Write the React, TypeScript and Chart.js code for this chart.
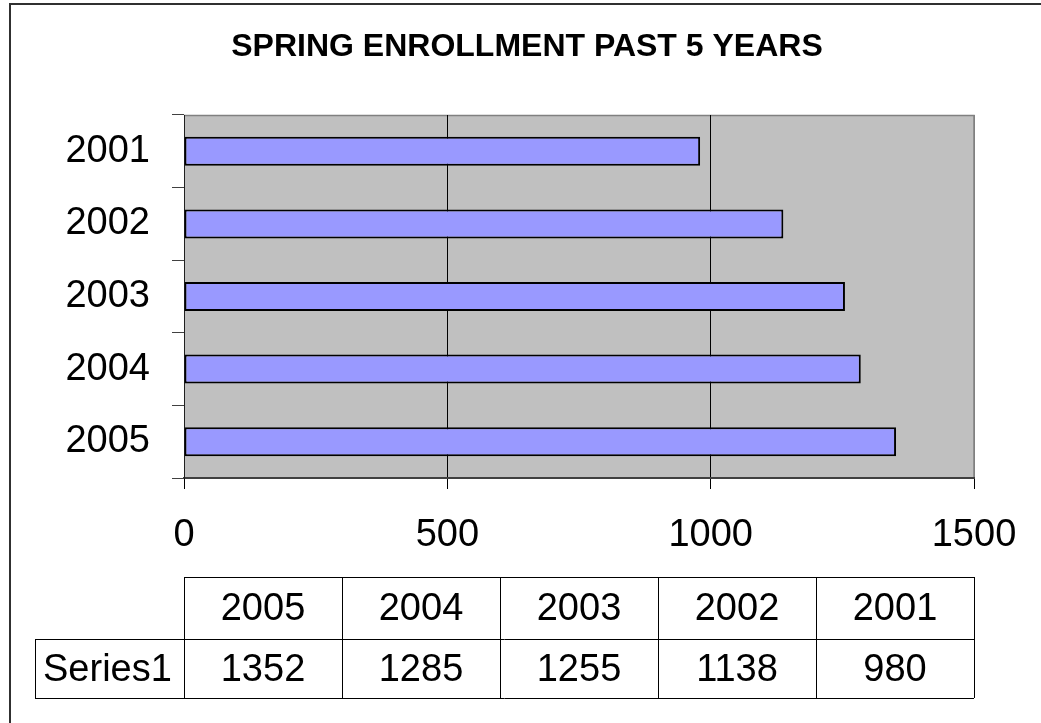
import React, { useEffect, useRef } from "react";
import { Chart, registerables } from "chart.js";

Chart.register(...registerables);

const TITLE = "SPRING ENROLLMENT PAST 5 YEARS";
const SERIES_NAME = "Series1";
const YEARS = ["2005", "2004", "2003", "2002", "2001"];
const ENROLLMENT = [1352, 1285, 1255, 1138, 980];
const X_MIN = 0;
const X_MAX = 1500;
const X_STEP = 500;

const FONT = '"Liberation Sans", Arial, sans-serif';
const W = 1041;
const H = 723;

const decorPlugin = {
  id: "decor",
  beforeDraw(chart: any) {
    const { ctx, chartArea } = chart;
    const { left, top, right, bottom } = chartArea;
    ctx.save();
    ctx.fillStyle = "#ffffff";
    ctx.fillRect(0, 0, chart.width, chart.height);
    ctx.fillStyle = "#C0C0C0";
    ctx.fillRect(left, top, right - left, bottom - top);
    ctx.strokeStyle = "#808080";
    ctx.lineWidth = 1.5;
    ctx.beginPath();
    ctx.moveTo(left, top + 0.5);
    ctx.lineTo(right, top + 0.5);
    ctx.lineTo(right, bottom);
    ctx.stroke();
    ctx.restore();
  },
  afterDraw(chart: any) {
    const { ctx, chartArea } = chart;
    const { left, right } = chartArea;
    ctx.save();
    // title
    ctx.fillStyle = "#000";
    ctx.font = `bold 32px ${FONT}`;
    ctx.textAlign = "center";
    ctx.textBaseline = "middle";
    ctx.fillText(TITLE, 527, 47);

    // data table
    const labels: string[] = chart.data.labels;
    const values: number[] = chart.data.datasets[0].data;
    const n = labels.length;
    const colW = (right - left) / n;
    const rowTop = 577;
    const rowMid = 639;
    const rowBot = 698;
    const labelLeft = 35;
    ctx.strokeStyle = "#000";
    ctx.lineWidth = 1;
    ctx.beginPath();
    ctx.moveTo(left, rowTop + 0.5);
    ctx.lineTo(right, rowTop + 0.5);
    ctx.moveTo(labelLeft, rowMid + 0.5);
    ctx.lineTo(right, rowMid + 0.5);
    ctx.moveTo(labelLeft, rowBot + 0.5);
    ctx.lineTo(right, rowBot + 0.5);
    ctx.moveTo(labelLeft + 0.5, rowMid);
    ctx.lineTo(labelLeft + 0.5, rowBot);
    for (let i = 0; i <= n; i++) {
      const x = Math.round(left + i * colW) + 0.5;
      ctx.moveTo(x, rowTop);
      ctx.lineTo(x, rowBot);
    }
    ctx.stroke();

    ctx.font = `38px ${FONT}`;
    ctx.textAlign = "center";
    ctx.textBaseline = "middle";
    for (let i = 0; i < n; i++) {
      const cx = left + (i + 0.5) * colW;
      ctx.fillText(String(labels[i]), cx, (rowTop + rowMid) / 2 + 2);
      ctx.fillText(String(values[i]), cx, (rowMid + rowBot) / 2 + 2);
    }
    ctx.textAlign = "left";
    ctx.fillText(SERIES_NAME, labelLeft + 8, (rowMid + rowBot) / 2 + 2);

    // outer frame
    ctx.strokeStyle = "#303030";
    ctx.lineWidth = 2;
    ctx.strokeRect(10, 4, W + 20, H + 20);
    ctx.restore();
  },
};

export default function App() {
  const canvasRef = useRef<HTMLCanvasElement | null>(null);

  useEffect(() => {
    const canvas = canvasRef.current;
    if (!canvas) return;
    const chart = new Chart(canvas, {
      type: "bar",
      data: {
        labels: YEARS,
        datasets: [
          {
            label: SERIES_NAME,
            data: ENROLLMENT,
            backgroundColor: "#9999FF",
            borderColor: "#000000",
            borderWidth: 2,
            borderSkipped: false,
            barPercentage: 0.4,
            categoryPercentage: 1,
          },
        ],
      },
      plugins: [decorPlugin],
      options: {
        indexAxis: "y",
        responsive: false,
        animation: false,
        devicePixelRatio: 1,
        layout: { padding: { left: 0, top: 115, right: 67, bottom: 0 } },
        plugins: {
          legend: { display: false },
          title: { display: false },
          tooltip: { enabled: false },
        },
        scales: {
          x: {
            type: "linear",
            min: X_MIN,
            max: X_MAX,
            afterFit: (scale: any) => {
              scale.height = 245;
            },
            ticks: {
              stepSize: X_STEP,
              color: "#000",
              font: { family: FONT, size: 38 },
              padding: 24,
              maxRotation: 0,
              callback: (v: any) => String(v),
            },
            grid: {
              color: (ctx: any) =>
                ctx.tick && ctx.tick.value === X_MAX ? "#808080" : "#000000",
              tickColor: "#000000",
              tickLength: 11,
              lineWidth: 1,
            },
            border: { display: true, color: "#404040", width: 2 },
          },
          y: {
            type: "category",
            reverse: true,
            afterFit: (scale: any) => {
              scale.width = 184;
            },
            ticks: {
              color: "#000",
              font: { family: FONT, size: 38 },
              padding: 22,
            },
            grid: {
              drawOnChartArea: false,
              drawTicks: true,
              tickLength: 12,
              tickColor: "#404040",
              offset: true,
            },
            border: { display: true, color: "#202020", width: 1 },
          },
        },
      },
    } as any);
    return () => chart.destroy();
  }, []);

  return (
    <div
      style={{
        position: "fixed",
        left: 0,
        top: 0,
        width: W,
        height: H,
        background: "#fff",
      }}
    >
      <canvas ref={canvasRef} width={W} height={H} style={{ width: W, height: H, display: "block" }} />
    </div>
  );
}
